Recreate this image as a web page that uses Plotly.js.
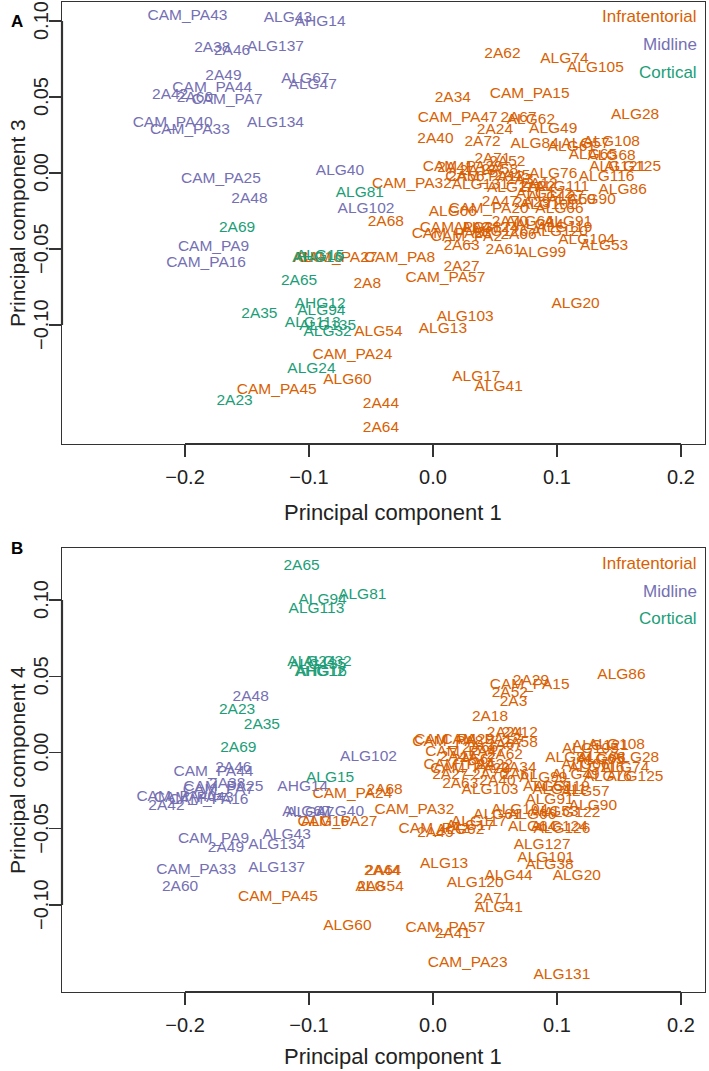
<!DOCTYPE html>
<html><head><meta charset="utf-8">
<script src="https://cdn.plot.ly/plotly-3.0.1.min.js"></script>
<style>html,body{margin:0;padding:0;background:#fff}#chart{width:709px;height:1071px}</style>
</head><body><div id="chart"></div>
<script>
// ---------- categories / tick labels ----------
const categories = ["Infratentorial", "Midline", "Cortical"];
const xTickVals = [-0.2, -0.1, 0.0, 0.1, 0.2];
const xTickText = ["\u22120.2", "\u22120.1", "0.0", "0.1", "0.2"];
const yTickVals = [-0.10, -0.05, 0.00, 0.05, 0.10];
const yTickText = ["\u22120.10", "\u22120.05", "0.00", "0.05", "0.10"];

// ---------- Panel A : PC1 vs PC3 ----------
const aInfraLabels = ["2A62","ALG74","ALG105","CAM_PA15","2A34","ALG28","CAM_PA47","2A67","ALG62","ALG49","2A24","2A40","2A72","ALG84","ALG61","ALG57","ALG108","ALG65","ALG68","2A71","2A52","ALG121","ALG125","CAM_PA29","CAM_PA12","2A56","ALG76","ALG116","ALG86","ALG90","2A22","ALG111","2A47","2A29","ALG59","ALG06","CAM_PA20","CAM_PA4","2A70","ALG91","ALG119","CAM_PA2","2A66","ALG104","ALG53","2A63","2A61","ALG99","CAM_PA8","2A27","CAM_PA57","CAM_PA32","2A68","ALG16","CAM_PA27","2A8","ALG54","ALG13","ALG103","ALG20","CAM_PA24","ALG60","CAM_PA45","2A44","2A64","ALG17","ALG41","2A18","2A3","2A12","ALG122","ALG127","ALG101","ALG64","ALG124","ALG126","ALG38","CAM_PA23","ALG44","ALG120","ALG131","ALG117","2A58","2A45","2A41","ALG66"];
const aInfraX = [0.056,0.106,0.131,0.078,0.016,0.163,0.020,0.069,0.079,0.097,0.050,0.002,0.040,0.082,0.112,0.123,0.144,0.129,0.144,0.048,0.060,0.149,0.161,0.024,0.042,0.027,0.097,0.140,0.153,0.128,0.084,0.104,0.054,0.080,0.112,0.016,0.045,0.018,0.062,0.109,0.106,0.027,0.069,0.124,0.138,0.023,0.057,0.088,-0.027,0.023,0.010,-0.017,-0.038,-0.093,-0.077,-0.053,-0.044,0.008,0.026,0.115,-0.065,-0.069,-0.126,-0.042,-0.042,0.035,0.053,0.036,0.070,0.086,0.090,0.099,0.093,0.078,0.046,0.054,0.036,0.015,0.086,0.102,0.038,0.066,0.054,0.064,0.018,0.102];
const aInfraY = [0.078,0.075,0.069,0.052,0.049,0.038,0.036,0.036,0.035,0.029,0.028,0.022,0.020,0.019,0.017,0.019,0.020,0.012,0.011,0.009,0.007,0.004,0.004,0.004,-0.003,-0.003,-0.001,-0.003,-0.011,-0.018,-0.009,-0.009,-0.019,-0.020,-0.018,-0.026,-0.024,-0.036,-0.032,-0.032,-0.036,-0.042,-0.041,-0.044,-0.048,-0.048,-0.051,-0.053,-0.056,-0.062,-0.069,-0.007,-0.032,-0.056,-0.056,-0.073,-0.105,-0.103,-0.095,-0.086,-0.120,-0.136,-0.143,-0.152,-0.168,-0.134,-0.141,0.001,-0.005,-0.007,-0.014,-0.016,-0.021,-0.032,-0.036,-0.039,-0.036,-0.040,-0.034,-0.039,-0.008,-0.010,0.002,-0.002,0.003,-0.024];

const aMidLabels = ["CAM_PA43","ALG43","AHG14","2A38","2A46","ALG137","2A49","ALG67","ALG47","CAM_PA44","2A42","2A60","CAM_PA7","CAM_PA40","CAM_PA33","ALG134","CAM_PA25","2A48","ALG40","ALG102","CAM_PA9","CAM_PA16"];
const aMidX = [-0.198,-0.117,-0.091,-0.178,-0.162,-0.127,-0.169,-0.103,-0.097,-0.178,-0.212,-0.192,-0.166,-0.210,-0.196,-0.127,-0.171,-0.148,-0.075,-0.054,-0.177,-0.183];
const aMidY = [0.103,0.102,0.099,0.082,0.080,0.083,0.064,0.062,0.058,0.056,0.051,0.049,0.048,0.033,0.028,0.033,-0.004,-0.017,0.001,-0.024,-0.049,-0.059];

const aCortLabels = ["ALG81","2A69","ALG15","AHG16","2A65","2A35","AHG12","ALG94","ALG113","ALG135","ALG32","ALG24","2A23"];
const aCortX = [-0.059,-0.158,-0.091,-0.093,-0.108,-0.140,-0.091,-0.090,-0.097,-0.085,-0.085,-0.098,-0.160];
const aCortY = [-0.013,-0.036,-0.055,-0.056,-0.071,-0.093,-0.086,-0.091,-0.099,-0.101,-0.105,-0.129,-0.150];

// ---------- Panel B : PC1 vs PC4 ----------
const bInfraLabels = ["2A44","2A64","ALG54","2A8","CAM_PA45","ALG60","ALG13","ALG120","ALG44","2A71","ALG41","CAM_PA57","2A41","CAM_PA23","ALG131","ALG90","ALG122","ALG61","ALG66","ALG117","CAM_PA2","2A45","ALG62","ALG64","ALG124","ALG126","ALG127","ALG101","ALG38","ALG20","CAM_PA32","CAM_PA27","ALG16","CAM_PA24","2A68","ALG86","CAM_PA15","2A29","2A52","2A3","2A18","2A24","2A12","CAM_PA29","CAM_PA8","CAM_PA12","2A58","CAM_PA4","2A47","2A72","2A62","2A34","ALG28","ALG108","ALG121","ALG84","ALG68","ALG116","ALG76","ALG125","2A63","2A40","ALG99","ALG59","ALG57","ALG119","CAM_PA47","CAM_PA20","2A70","2A66","2A67","2A56","2A61","2A27","2A22","ALG06","ALG49","ALG65","ALG74","ALG105","ALG111","ALG91","ALG104","ALG53","ALG103","ALG17"];
const bInfraX = [-0.041,-0.040,-0.043,-0.050,-0.125,-0.069,0.009,0.034,0.061,0.048,0.053,0.010,0.016,0.028,0.104,0.129,0.112,0.052,0.080,0.037,0.001,0.002,0.022,0.080,0.102,0.104,0.088,0.091,0.094,0.116,-0.015,-0.077,-0.087,-0.065,-0.039,0.152,0.078,0.079,0.062,0.065,0.046,0.058,0.070,0.017,0.012,0.039,0.070,0.021,0.020,0.036,0.058,0.069,0.163,0.148,0.135,0.110,0.136,0.132,0.141,0.163,0.022,0.052,0.089,0.092,0.123,0.104,0.026,0.030,0.046,0.038,0.058,0.030,0.070,0.014,0.050,0.123,0.115,0.135,0.155,0.127,0.102,0.094,0.070,0.098,0.046,0.030];
const bInfraY = [-0.078,-0.078,-0.088,-0.088,-0.095,-0.114,-0.073,-0.086,-0.081,-0.096,-0.102,-0.115,-0.119,-0.138,-0.146,-0.035,-0.040,-0.041,-0.041,-0.046,-0.050,-0.053,-0.051,-0.049,-0.049,-0.050,-0.061,-0.069,-0.074,-0.081,-0.038,-0.046,-0.046,-0.027,-0.025,0.051,0.044,0.047,0.039,0.033,0.023,0.013,0.013,0.008,0.007,0.008,0.006,-0.008,-0.003,-0.004,-0.002,-0.010,-0.004,0.005,0.004,-0.004,-0.004,-0.010,-0.016,-0.016,-0.021,-0.019,-0.017,-0.023,-0.026,-0.023,0.000,-0.011,-0.015,0.003,0.005,-0.005,-0.015,-0.015,-0.008,-0.008,-0.015,-0.005,-0.010,0.002,-0.025,-0.031,-0.038,-0.039,-0.025,-0.048];

const bMidLabels = ["2A48","ALG102","CAM_PA44","2A46","CAM_PA25","2A38","CAM_PA7","AHG14","CAM_PA40","CAM_PA43","CAM_PA16","2A42","ALG67","ALG47","ALG40","ALG43","CAM_PA9","2A49","ALG134","ALG137","CAM_PA33","2A60"];
const bMidX = [-0.147,-0.052,-0.177,-0.161,-0.169,-0.166,-0.173,-0.105,-0.207,-0.193,-0.181,-0.215,-0.102,-0.099,-0.075,-0.118,-0.177,-0.167,-0.126,-0.126,-0.191,-0.204];
const bMidY = [0.036,-0.003,-0.013,-0.010,-0.023,-0.021,-0.025,-0.023,-0.029,-0.030,-0.031,-0.035,-0.039,-0.040,-0.039,-0.054,-0.057,-0.063,-0.061,-0.076,-0.077,-0.088];

const bCortLabels = ["2A65","ALG81","ALG94","ALG113","ALG24","ALG32","ALG135","AHG16","AHG12","2A23","2A35","2A69","ALG15"];
const bCortX = [-0.106,-0.057,-0.089,-0.094,-0.098,-0.085,-0.093,-0.090,-0.091,-0.158,-0.138,-0.157,-0.083];
const bCortY = [0.122,0.103,0.100,0.094,0.059,0.059,0.057,0.053,0.053,0.028,0.018,0.003,-0.017];

// ---------- styling ----------
const colors = ["#D95F02", "#7570B3", "#1B9E77"];
const FONT = "Liberation Sans, Arial, Helvetica, sans-serif";
const W = 709, H = 1071;
const boxL = 62, boxR = 705;
const boxA = {top: 2, bottom: 444, xTitle: 512};
const boxB = {top: 548, bottom: 992, xTitle: 1056};
const fx = p => p / W;
const fy = p => 1 - p / H;

function textTrace(labels, xs, ys, color, xa, ya) {
  return {type: "scatter", mode: "text", x: xs, y: ys, text: labels,
    textposition: "middle center", xaxis: xa, yaxis: ya,
    textfont: {family: FONT, size: 15.5, color: color},
    hoverinfo: "skip", showlegend: false, cliponaxis: true};
}

const data = [
  textTrace(aInfraLabels, aInfraX, aInfraY, colors[0], "x", "y"),
  textTrace(aMidLabels, aMidX, aMidY, colors[1], "x", "y"),
  textTrace(aCortLabels, aCortX, aCortY, colors[2], "x", "y"),
  textTrace(bInfraLabels, bInfraX, bInfraY, colors[0], "x2", "y2"),
  textTrace(bMidLabels, bMidX, bMidY, colors[1], "x2", "y2"),
  textTrace(bCortLabels, bCortX, bCortY, colors[2], "x2", "y2")
];

const xRange = [-0.2992, 0.2194];
const yRangeA = [-0.1783, 0.1125];
const yRangeB = [-0.1571, 0.1341];

function axisBase() {
  return {showline: true, mirror: true, linecolor: "#333", linewidth: 1.3,
    ticks: "outside", ticklen: 12, tickwidth: 1.3, tickcolor: "#333",
    showgrid: false, zeroline: false, fixedrange: true,
    tickfont: {family: FONT, size: 20, color: "#222"}, tickmode: "array"};
}
function xAxis(anchor) {
  return Object.assign(axisBase(), {domain: [fx(boxL), fx(boxR)], range: xRange, anchor: anchor,
    tickvals: xTickVals, ticktext: xTickText, ticklabelstandoff: 3});
}
function yAxis(anchor, box, range) {
  return Object.assign(axisBase(), {domain: [fy(box.bottom), fy(box.top)], range: range, anchor: anchor,
    tickvals: yTickVals, ticktext: yTickText, showticklabels: false});
}

function legendAnn(box) {
  return categories.map((c, i) => ({xref: "paper", yref: "paper", x: fx(699), y: fy(box.top + 15 + 28 * i),
    xanchor: "right", yanchor: "middle", showarrow: false, text: c,
    font: {family: FONT, size: 17, color: colors[i]}}));
}
function yTickAnns(yref) {
  return yTickVals.map((v, i) => ({xref: "paper", yref: yref, x: fx(41), y: v, xanchor: "center", yanchor: "middle",
    textangle: -90, showarrow: false, text: yTickText[i], font: {family: FONT, size: 20, color: "#222"}}));
}
function titleAnns(box, ytitle) {
  return [
    {xref: "paper", yref: "paper", x: fx(393), y: fy(box.xTitle), xanchor: "center", yanchor: "middle",
      showarrow: false, text: "Principal component 1", font: {family: FONT, size: 22, color: "#222"}},
    {xref: "paper", yref: "paper", x: fx(17), y: fy((box.top + box.bottom) / 2), xanchor: "center", yanchor: "middle",
      textangle: -90, showarrow: false, text: ytitle, font: {family: FONT, size: 21, color: "#222"}}
  ];
}

const annotations = [].concat(
  legendAnn(boxA), legendAnn(boxB),
  yTickAnns("y"), yTickAnns("y2"),
  titleAnns(boxA, "Principal component 3"), titleAnns(boxB, "Principal component 4"),
  [{xref: "paper", yref: "paper", x: fx(9), y: fy(10), showarrow: false, text: "<b>A</b>",
     font: {family: FONT, size: 17, color: "#000"}},
   {xref: "paper", yref: "paper", x: fx(9), y: fy(548), showarrow: false, text: "<b>B</b>",
     font: {family: FONT, size: 17, color: "#000"}}]
);

function axisSegs(xr, yr) {
  return [
    {type: "line", xref: xr, yref: yr + " domain", x0: xTickVals[0], x1: xTickVals[xTickVals.length - 1], y0: 0, y1: 0,
      line: {color: "#333", width: 2.2}},
    {type: "line", xref: xr + " domain", yref: yr, x0: 0, x1: 0, y0: yTickVals[0], y1: yTickVals[yTickVals.length - 1],
      line: {color: "#333", width: 2.2}}
  ];
}

const layout = {
  width: W, height: H, margin: {l: 0, r: 0, t: 0, b: 0},
  paper_bgcolor: "#fff", plot_bgcolor: "#fff", showlegend: false,
  xaxis: xAxis("y"), yaxis: yAxis("x", boxA, yRangeA),
  xaxis2: xAxis("y2"), yaxis2: yAxis("x2", boxB, yRangeB),
  annotations: annotations,
  shapes: axisSegs("x", "y").concat(axisSegs("x2", "y2"))
};

Plotly.newPlot("chart", data, layout, {staticPlot: true, displayModeBar: false});
</script></body></html>
